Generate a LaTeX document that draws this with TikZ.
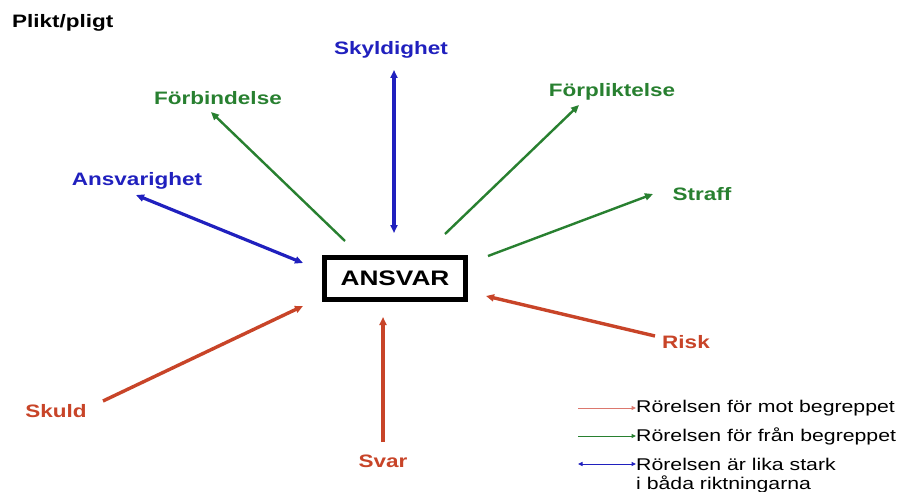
\documentclass[tikz,border=0pt]{standalone}
\usepackage{fontspec}
\setmainfont[FakeStretch=1.25]{Liberation Sans}
\usetikzlibrary{arrows.meta}
\definecolor{cblue}{RGB}{32,32,190}
\definecolor{cgreen}{RGB}{40,128,48}
\definecolor{cred}{RGB}{200,68,40}
\definecolor{lred}{RGB}{220,120,110}
\begin{document}
\begin{tikzpicture}[x=1pt,y=-1pt,
  lbl/.style={inner sep=0pt,font=\fontsize{18}{20}\selectfont\bfseries},
  leg/.style={inner sep=0pt,anchor=west,font=\fontsize{17}{19}\selectfont},
  tip/.style={-{Triangle[length=8pt,width=7pt]}},
  tips/.style={{Triangle[length=8pt,width=7pt]}-{Triangle[length=8pt,width=7pt]}},
  garrow/.style={tip,draw=cgreen,line width=2.4pt},
  rarrow/.style={tip,draw=cred,line width=3.4pt},
  barrow/.style={tips,draw=cblue,line width=3.2pt},
  smalltip/.style={-{Triangle[length=4.5pt,width=4pt]}},
  smalltips/.style={{Triangle[length=4.5pt,width=4pt]}-{Triangle[length=4.5pt,width=4pt]}}]
\useasboundingbox[fill=white] (0,0) rectangle (902,492);

% title
\node[lbl,anchor=west] (title) at (12,23) {Plikt/pligt};

% central concept
\node[draw=black,line width=5pt,minimum width=141pt,minimum height=42pt,
      font=\fontsize{21}{23}\selectfont\bfseries] (ansvar) at (395,278.5) {ANSVAR};

% surrounding concepts
\node[lbl,text=cblue]  (skyl)  at (391,50)  {Skyldighet};
\node[lbl,text=cgreen] (forb)  at (218,98)  {Förbindelse};
\node[lbl,text=cblue]  (ansv)  at (137,181) {Ansvarighet};
\node[lbl,text=cgreen] (forp)  at (612,92)  {Förpliktelse};
\node[lbl,text=cgreen] (straf) at (702,194) {Straff};
\node[lbl,text=cred]   (risk)  at (686,342) {Risk};
\node[lbl,text=cred]   (skuld) at (56,411)  {Skuld};
\node[lbl,text=cred]   (svar)  at (383,461) {Svar};

% arrow end points
\coordinate (skyA) at (394,70);   \coordinate (skyB) at (394,233);
\coordinate (forbA) at (345,241); \coordinate (forbB) at (211,112);
\coordinate (ansA) at (136,195);  \coordinate (ansB) at (303,263);
\coordinate (forpA) at (445,234); \coordinate (forpB) at (579,105);
\coordinate (strA) at (488,256);  \coordinate (strB) at (653,194);
\coordinate (riskA) at (655,336); \coordinate (riskB) at (486,296);
\coordinate (skuA) at (103,401);  \coordinate (skuB) at (303,306);
\coordinate (svA) at (383,442);   \coordinate (svB) at (383,317);

\draw[barrow] (skyA) -- (skyB);
\draw[barrow] (ansA) -- (ansB);
\draw[garrow] (forbA) -- (forbB);
\draw[garrow] (forpA) -- (forpB);
\draw[garrow] (strA) -- (strB);
\draw[rarrow] (riskA) -- (riskB);
\draw[rarrow] (skuA) -- (skuB);
\draw[rarrow] (svA) -- (svB);

% legend
\node[leg] (l1) at (636,408) {Rörelsen för mot begreppet};
\node[leg] (l2) at (636,436) {Rörelsen för från begreppet};
\node[leg] (l3) at (636,464) {Rörelsen är lika stark};
\node[leg] (l4) at (636,484) {i båda riktningarna};
\coordinate (k1) at (578,408);
\coordinate (k2) at (578,436);
\coordinate (k3) at (578,464);
\draw[smalltip,draw=lred,line width=1pt] (k1) -- (l1.west);
\draw[smalltip,draw=cgreen,line width=1pt] (k2) -- (l2.west);
\draw[smalltips,draw=cblue,line width=1pt] (k3) -- (l3.west);
\end{tikzpicture}
\end{document}
